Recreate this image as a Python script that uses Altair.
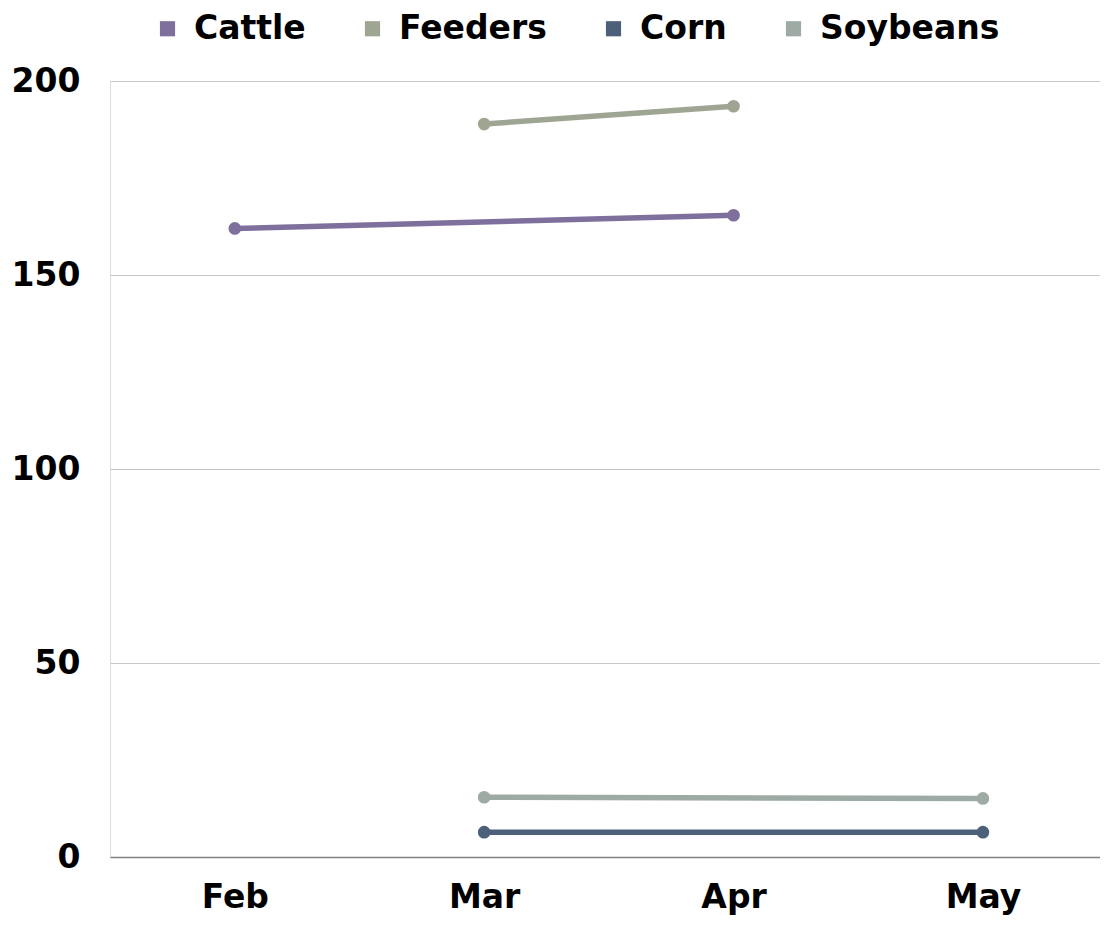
import altair as alt
import pandas as pd

months = ["Feb", "Mar", "Apr", "May"]
series_names = ["Cattle", "Feeders", "Corn", "Soybeans"]
cattle = [162.0, None, 165.4, None]
feeders = [None, 188.9, 193.5, None]
corn = [None, 6.4, None, 6.4]
soybeans = [None, 15.4, None, 15.1]
colors = ["#7f6f9c", "#9fa593", "#4d6079", "#9eaba4"]

rows = []
for name, vals in zip(series_names, [cattle, feeders, corn, soybeans]):
    for m, v in zip(months, vals):
        if v is not None:
            rows.append({"month": m, "series": name, "value": v})
df = pd.DataFrame(rows)

FONT = "DejaVu Sans"
FS = 33

x = alt.X("month:N", sort=months,
          scale=alt.Scale(domain=months, type="point", padding=0.485, align=0.516),
          axis=alt.Axis(title=None, labelAngle=0, labelFontSize=FS, labelFont=FONT,
                        labelFontWeight="bold", labelColor="#000", labelPadding=24,
                        ticks=False, grid=False, domainColor="#808080", domainWidth=1.5))
y = alt.Y("value:Q", scale=alt.Scale(domain=[0, 200], nice=False),
          axis=alt.Axis(title=None, values=[0, 50, 100, 150, 200], labelFontSize=FS,
                        labelFont=FONT, labelFontWeight="bold", labelColor="#000",
                        labelPadding=30, ticks=False, domain=False,
                        gridColor="#c8c8c8", gridWidth=1))
color = alt.Color("series:N", sort=series_names,
                  scale=alt.Scale(domain=series_names, range=colors),
                  legend=alt.Legend(title=None, orient="none", direction="horizontal",
                                    legendX=41, legendY=-69, symbolType="square",
                                    symbolSize=230, symbolStrokeWidth=0,
                                    labelFontSize=FS, labelFont=FONT, labelFontWeight="bold",
                                    labelColor="#000", columnPadding=50, labelOffset=10,
                                    labelLimit=400, symbolOpacity=1))

base = alt.Chart(df).encode(x=x, y=y, color=color, detail="series:N")
lines = base.mark_line(strokeWidth=5.5)
points = base.mark_point(filled=True, size=160, opacity=1)

chart = alt.layer(lines, points).properties(
    width=990, height=776,
    padding={"left": 102, "top": 73, "right": 0, "bottom": 64},
    autosize=alt.AutoSizeParams(type="none"),
).configure_view(stroke=None).configure(background="white")

chart.save("out.html", embed_options={"renderer": "svg", "actions": False})
